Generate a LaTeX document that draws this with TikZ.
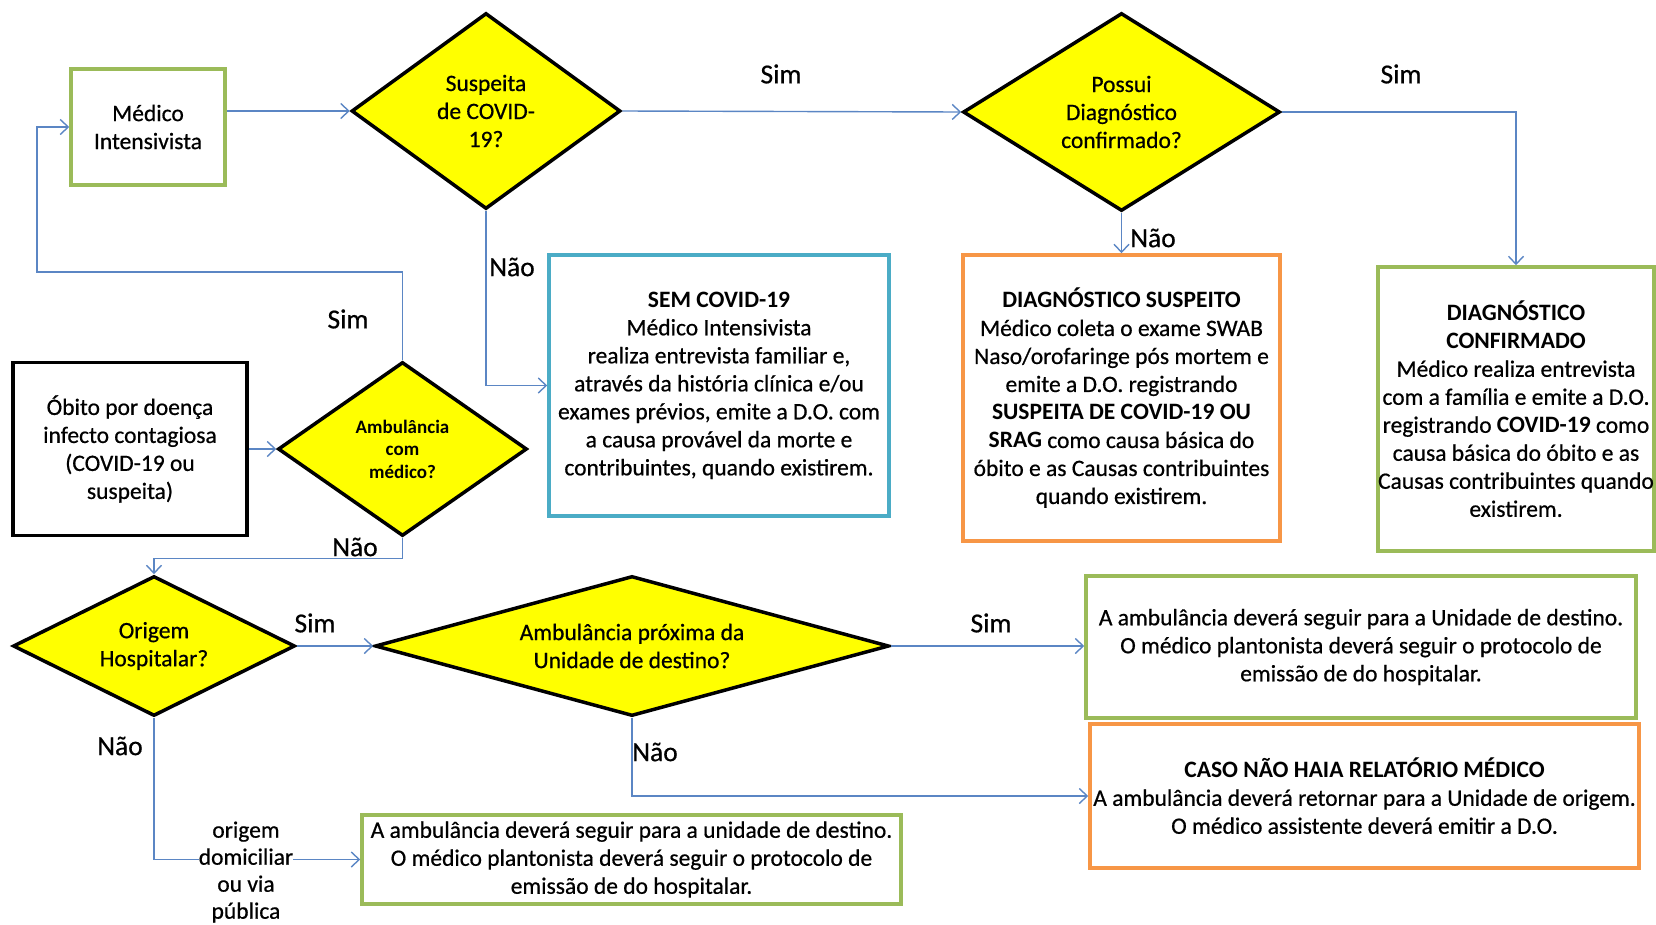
\documentclass[tikz,border=0pt]{standalone}
\usepackage{fontspec}
\setmainfont{Carlito}[UprightFeatures={FakeBold=0.6}]
\usetikzlibrary{shapes.geometric,arrows.meta}
\definecolor{boxgreen}{RGB}{155,187,89}
\definecolor{boxorange}{RGB}{247,150,70}
\definecolor{boxteal}{RGB}{75,172,198}
\definecolor{linkblue}{RGB}{91,134,196}
\definecolor{decyellow}{RGB}{255,255,0}

\begin{document}
\begin{tikzpicture}[x=1pt,y=-1pt,
  every node/.style={font=\fontsize{23.5}{28}\selectfont, align=center, inner sep=0pt},
  panel/.style={rectangle, line width=3.5pt, fill=white},
  greenpanel/.style={panel, draw=boxgreen},
  orangepanel/.style={panel, draw=boxorange},
  tealpanel/.style={panel, draw=boxteal},
  blackpanel/.style={panel, draw=black},
  decision/.style={diamond, draw=black, line width=3.5pt, fill=decyellow, line join=miter},
  link/.style={draw=linkblue, line width=1.4pt, -{Straight Barb[length=8pt,width=15pt]}},
  lbl/.style={font=\fontsize{27.5}{32}\selectfont}
]
\useasboundingbox (0,0) rectangle (1656,924);

% ---- process boxes ----
\node[greenpanel, minimum width=154pt, minimum height=116pt] (medico) at (148,127)
  {Médico\\Intensivista};

\node[tealpanel, minimum width=340pt, minimum height=261pt] (sem) at (719,385.5)
  {\textbf{SEM COVID-19}\\Médico Intensivista\\realiza entrevista familiar e,\\através da história clínica e/ou\\exames prévios, emite a D.O. com\\a causa provável da morte e\\contribuintes, quando existirem.};

\node[orangepanel, minimum width=317pt, minimum height=286pt] (dsus) at (1121.5,398)
  {\textbf{DIAGNÓSTICO SUSPEITO}\\Médico coleta o exame SWAB\\Naso/orofaringe pós mortem e\\emite a D.O. registrando\\\textbf{SUSPEITA DE COVID-19 OU}\\\textbf{SRAG} como causa básica do\\óbito e as Causas contribuintes\\quando existirem.};

\node[greenpanel, minimum width=276pt, minimum height=284pt] (dconf) at (1516,409)
  {\textbf{DIAGNÓSTICO}\\\textbf{CONFIRMADO}\\Médico realiza entrevista\\com a família e emite a D.O.\\registrando \textbf{COVID-19} como\\causa básica do óbito e as\\Causas contribuintes quando\\existirem.};

\node[blackpanel, minimum width=234pt, minimum height=173pt] (obito) at (130,449)
  {Óbito por doença\\infecto contagiosa\\(COVID-19 ou\\suspeita)};

\node[greenpanel, minimum width=550pt, minimum height=142pt] (seg) at (1361,647)
  {A ambulância deverá seguir para a Unidade de destino.\\O médico plantonista deverá seguir o protocolo de\\emissão de do hospitalar.};

\node[orangepanel, minimum width=549pt, minimum height=144pt] (caso) at (1364.5,796)
  {\textbf{CASO NÃO HAIA RELATÓRIO MÉDICO}\\A ambulância deverá retornar para a Unidade de origem.\\O médico assistente deverá emitir a D.O.};

\node[greenpanel, minimum width=539pt, minimum height=89pt] (dom) at (631.5,859.5)
  {A ambulância deverá seguir para a unidade de destino.\\O médico plantonista deverá seguir o protocolo de\\emissão de do hospitalar.};

% ---- decisions ----
\node[decision, minimum width=269pt, minimum height=196pt, shape aspect=1.37] (sus) at (486,111)
  {Suspeita\\de COVID-\\19?};
\node[decision, minimum width=317pt, minimum height=198pt, shape aspect=1.6] (pos) at (1121.5,112)
  {Possui\\Diagnóstico\\confirmado?};
\node[decision, minimum width=249pt, minimum height=174pt, shape aspect=1.43,
      font=\fontsize{19}{22.5}\selectfont\bfseries] (amb) at (402.5,449)
  {Ambulância\\com\\médico?};
\node[decision, minimum width=282pt, minimum height=140pt, shape aspect=2.01] (orig) at (154,646)
  {Origem\\Hospitalar?};
\node[decision, minimum width=514pt, minimum height=140pt, shape aspect=3.67] (prox) at (632,646)
  {Ambulância próxima da\\Unidade de destino?};

% ---- connectors ----
\coordinate (loopL) at (37,272);
\draw[link] (medico.east |- sus.west) -- (sus.west);
\draw[link] (sus.east) -- (pos.west);
\draw[link] (pos.east) -| (dconf.north);
\draw[link] (pos.south) -- (dsus.north);
\draw[link] (sus.south) |- (sem.west);
\draw[link] (obito.east) -- (amb.west);
\draw[link] (amb.north) |- (loopL) |- (medico.west);
\draw[link] (amb.south) -- ++(0,20.5) -| (orig.north);
\draw[link] (orig.east) -- (prox.west);
\draw[link] (prox.east) -- (prox.east -| seg.west);
\draw[link] (prox.south) |- (caso.west);
\draw[link] (orig.south) |- (dom.west);

% ---- branch labels ----
\node[lbl] (l1) at (781,74) {Sim};
\node[lbl] (l2) at (1401,74) {Sim};
\node[lbl] (l3) at (1153,238) {Não};
\node[lbl] (l4) at (512,267) {Não};
\node[lbl] (l5) at (348,319) {Sim};
\node[lbl] (l6) at (355,547) {Não};
\node[lbl] (l7) at (315,623) {Sim};
\node[lbl] (l8) at (991,623) {Sim};
\node[lbl] (l9) at (655,752) {Não};
\node[lbl] (l10) at (120,746) {Não};
\node[fill=white, font=\fontsize{23.5}{27}\selectfont] (l11) at (246,872)
  {origem\\domiciliar\\ou via\\pública};
\end{tikzpicture}
\end{document}
